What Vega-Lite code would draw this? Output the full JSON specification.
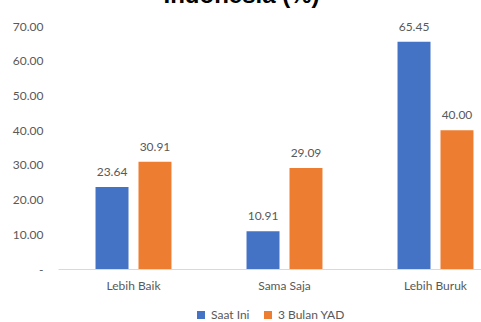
{
  "$schema": "https://vega.github.io/schema/vega-lite/v6.json",
  "autosize": "none",
  "width": 423,
  "height": 243,
  "padding": {"left": 58, "top": 26, "right": 0, "bottom": 53},
  "background": "white",
  "title": {"text": "Indonesia (%)", "font": "Liberation Sans", "fontSize": 24, "fontWeight": "bold", "color": "black", "anchor": "middle", "frame": "group", "dx": -28, "offset": 12},
  "config": {"view": {"stroke": null}, "font": "Lato"},
  "data": {"values": [
    {"kategori": "Lebih Baik", "seri": "Saat Ini", "nilai": 23.64},
    {"kategori": "Lebih Baik", "seri": "3 Bulan YAD", "nilai": 30.91},
    {"kategori": "Sama Saja", "seri": "Saat Ini", "nilai": 10.91},
    {"kategori": "Sama Saja", "seri": "3 Bulan YAD", "nilai": 29.09},
    {"kategori": "Lebih Buruk", "seri": "Saat Ini", "nilai": 65.45},
    {"kategori": "Lebih Buruk", "seri": "3 Bulan YAD", "nilai": 40.00}
  ]},
  "encoding": {
    "x": {"field": "kategori", "type": "nominal", "sort": ["Lebih Baik", "Sama Saja", "Lebih Buruk"],
      "scale": {"range": [0, 453], "paddingInner": 0.497, "paddingOuter": 0.2485},
      "axis": {"title": null, "labelAngle": 0, "ticks": false, "domainColor": "#d9d9d9", "labelColor": "#595959", "labelFontSize": 12, "labelPadding": 11, "labelFont": "Lato"}},
    "xOffset": {"field": "seri", "type": "nominal", "sort": ["Saat Ini", "3 Bulan YAD"], "scale": {"paddingInner": 0.2326, "paddingOuter": 0}},
    "y": {"field": "nilai", "type": "quantitative", "scale": {"domain": [0, 70]},
      "axis": {"title": null, "grid": false, "domain": false, "ticks": false, "tickCount": 7, "labelColor": "#595959", "labelFontSize": 12, "labelPadding": 15, "labelFont": "Lato",
        "labelExpr": "datum.value == 0 ? '-\u00a0\u00a0' : format(datum.value, '.2f')"}}
  },
  "layer": [
    {"mark": {"type": "bar"},
     "encoding": {"color": {"field": "seri", "type": "nominal", "sort": ["Saat Ini", "3 Bulan YAD"],
        "scale": {"domain": ["Saat Ini", "3 Bulan YAD"], "range": ["#4472C4", "#ED7D31"]},
        "legend": {"title": null, "orient": "none", "legendX": 137, "legendY": 283, "direction": "horizontal", "symbolType": "square", "symbolSize": 64, "labelColor": "#595959", "labelFontSize": 12, "labelFont": "Lato", "columnPadding": 12, "labelOffset": 4}}}},
    {"mark": {"type": "text", "baseline": "alphabetic", "dy": -11, "fontSize": 12, "color": "#595959", "font": "Lato"},
     "encoding": {"text": {"field": "nilai", "type": "quantitative", "format": ".2f"}}}
  ]
}
